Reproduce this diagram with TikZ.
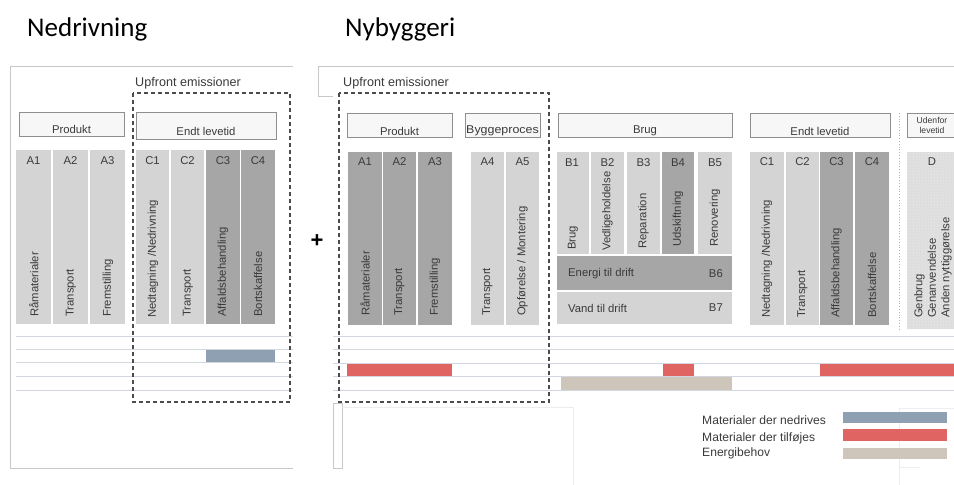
\documentclass[tikz,border=0pt]{standalone}
\usepackage{fontspec}
\setmainfont{Liberation Sans}
\newfontfamily\titlefont{Carlito}
\usetikzlibrary{patterns}
\definecolor{lcol}{HTML}{D4D4D4}
\definecolor{dcol}{HTML}{A6A6A6}
\definecolor{hcol}{HTML}{DDDDDD}
\definecolor{txt}{HTML}{3A3A3A}
\definecolor{rule}{HTML}{D3D8E0}
\definecolor{frame}{HTML}{C8C8C8}
\definecolor{bluebar}{HTML}{8FA0B2}
\definecolor{redbar}{HTML}{E06461}
\definecolor{beigebar}{HTML}{CEC5BB}
\definecolor{hdrborder}{HTML}{8E8E8E}
\newcommand\mkcol[5]{\fill[#5] (#1,#3) rectangle (#2,#4);}
\tikzset{
  every node/.style={text=txt, font=\fontsize{11.3}{13.5}\selectfont, inner sep=0pt},
  rotlab/.style={rotate=90, anchor=west},
  hdrbox/.style={draw=hdrborder, fill=white!97!black, line width=0.7pt},
  rowline/.style={draw=rule, line width=1pt},
  dashbox/.style={draw=black!70, dash pattern=on 4pt off 3pt, line width=1.1pt},
  framel/.style={draw=frame, line width=0.8pt},
  faint/.style={draw=black!7, line width=0.7pt},
  legtext/.style={anchor=base west, font=\fontsize{12.1}{14}\selectfont},
  title/.style={font=\titlefont\fontsize{27}{31}\selectfont, text=black, anchor=base west},
}
\begin{document}
\begin{tikzpicture}[x=1pt,y=-1pt]
\useasboundingbox (0,0) rectangle (954,485);

% ---------- titles ----------
\node[title] (t1) at (27,36) {Nedrivning};
\node[title] (t2) at (345,36) {Nybyggeri};
\node[font=\bfseries\fontsize{22}{24}\selectfont, text=black] (plus) at (317,241) {+};

% ---------- left frame ----------
\draw[framel] (293,66) -- (10,66) -- (10,468) -- (293,468);
\node[anchor=base west, font=\fontsize{12.6}{14}\selectfont] (up1) at (135,86) {Upfront emissioner};

% header boxes left
\draw[hdrbox] (19,112) rectangle (124,136);
\node (lprod) at (71.5,129) {Produkt};
\draw[hdrbox] (136,112) rectangle (276,139);
\node (lendt) at (206,131) {Endt levetid};

% columns left
\mkcol{16}{51}{150}{324}{lcol}
\mkcol{53}{88}{150}{324}{lcol}
\mkcol{90}{125}{150}{324}{lcol}
\mkcol{136}{169}{150}{324}{lcol}
\mkcol{171}{204}{150}{324}{lcol}
\mkcol{206}{240}{150}{324}{dcol}
\mkcol{241}{275}{150}{324}{dcol}
\node (la1) at (33.5,161) {A1};
\node (la2) at (70.5,161) {A2};
\node (la3) at (107.5,161) {A3};
\node (lc1) at (152.5,161) {C1};
\node (lc2) at (187.5,161) {C2};
\node (lc3) at (223,161) {C3};
\node (lc4) at (258,161) {C4};
\node[rotlab] (lr1) at (34,317) {Råmaterialer};
\node[rotlab] (lr2) at (71,317) {Transport};
\node[rotlab] (lr3) at (108,317) {Fremstilling};
\node[rotlab] (lr4) at (153,318) {Nedtagning /Nedrivning};
\node[rotlab] (lr5) at (188,317) {Transport};
\node[rotlab] (lr6) at (223,317) {Affaldsbehandling};
\node[rotlab] (lr7) at (258,317) {Bortskaffelse};

% rows left
\foreach \yy in {336,349,362,376,390} \draw[rowline] (16,\yy) -- (293,\yy);
\fill[bluebar] (206,349.5) rectangle (275,361.5);

\draw[dashbox] (133,93) rectangle (290,402);

% ---------- right frame ----------
\draw[framel] (954,66) -- (318,66) -- (318,96) -- (333,96);
\draw[framel] (333,403) rectangle (342,468);
\draw[faint] (342,407) -- (573,407) -- (573,485);
\draw[faint] (954,408) -- (899,408) -- (899,485);
\draw[faint] (899,467) -- (920,467);
\node[anchor=base west, font=\fontsize{12.6}{14}\selectfont] (up2) at (343,86) {Upfront emissioner};

% header boxes right
\draw[hdrbox] (347,113) rectangle (452,137);
\node (rprod) at (399.5,131) {Produkt};
\draw[hdrbox] (465,113) rectangle (540,137);
\node[xscale=1.1] (rbyg) at (502.5,131) {Byggeproces};
\draw[hdrbox] (558,113) rectangle (732,137);
\node (rbrug) at (645,131) {Brug};
\draw[hdrbox] (750,113) rectangle (890,137);
\node (rendt) at (820,131) {Endt levetid};
\draw[hdrbox] (907,113) rectangle (960,137);
\node[font=\fontsize{8.6}{10}\selectfont, align=center] (rude) at (932,125) {Udenfor\\levetid};
\draw[draw=black!30, dotted, line width=0.8pt] (899,113) -- (899,330);

% columns right
\mkcol{348}{382}{152}{325}{dcol}
\mkcol{383}{416}{152}{325}{dcol}
\mkcol{418}{452}{152}{325}{dcol}
\mkcol{471}{504}{152}{325}{lcol}
\mkcol{506}{539}{152}{325}{lcol}
\mkcol{557}{589}{152}{254}{lcol}
\mkcol{591}{624}{152}{254}{lcol}
\mkcol{627}{660}{152}{254}{lcol}
\mkcol{662}{694}{152}{254}{dcol}
\mkcol{698}{732}{152}{254}{lcol}
\mkcol{557}{732}{256}{290}{dcol}
\mkcol{557}{732}{292}{324}{lcol}
\mkcol{750}{784}{152}{325}{lcol}
\mkcol{786}{819}{152}{325}{lcol}
\mkcol{820}{853}{152}{325}{dcol}
\mkcol{855}{889}{152}{325}{dcol}
\fill[hcol] (907,152) rectangle (960,329);
\fill[pattern=crosshatch dots, pattern color=black!8] (907,152) rectangle (960,329);

\node (ra1) at (365,162) {A1};
\node (ra2) at (399.5,162) {A2};
\node (ra3) at (435,162) {A3};
\node (ra4) at (487.5,162) {A4};
\node (ra5) at (522.5,162) {A5};
\node (rb1) at (572,163) {B1};
\node (rb2) at (607.5,163) {B2};
\node (rb3) at (643.5,163) {B3};
\node (rb4) at (678,163) {B4};
\node (rb5) at (715,163) {B5};
\node (rc1) at (767,162) {C1};
\node (rc2) at (802.5,162) {C2};
\node (rc3) at (836.5,162) {C3};
\node (rc4) at (872,162) {C4};
\node (rd) at (932,162) {D};

\node[rotlab] (rr1) at (365,316) {Råmaterialer};
\node[rotlab] (rr2) at (399.5,316) {Transport};
\node[rotlab] (rr3) at (435,316) {Fremstilling};
\node[rotlab] (rr4) at (487.5,316) {Transport};
\node[rotlab] (rr5) at (522.5,316) {Opførelse / Montering};
\node[rotlab] (rb1l) at (573,250) {Brug};
\node[rotlab] (rb2l) at (607.5,251) {Vedligeholdelse};
\node[rotlab] (rb3l) at (643.5,249) {Reparation};
\node[rotlab] (rb4l) at (678,247) {Udskiftning};
\node[rotlab] (rb5l) at (715,247) {Renovering};
\node[anchor=west] (rb6) at (568,274) {Energi til drift};
\node[anchor=east] (rb6n) at (723,274) {B6};
\node[anchor=west] (rb7) at (568,308) {Vand til drift};
\node[anchor=east] (rb7n) at (723,308) {B7};
\node[rotlab] (rc1l) at (767,318) {Nedtagning /Nedrivning};
\node[rotlab] (rc2l) at (802.5,318) {Transport};
\node[rotlab] (rc3l) at (836.5,318) {Affaldsbehandling};
\node[rotlab] (rc4l) at (872,318) {Bortskaffelse};
\node[rotlab, align=left] (rdl) at (933,318) {Genbrug\\Genanvendelse\\Anden nyttiggørelse};

% rows right
\foreach \yy in {336,349,363,376,390} \draw[rowline] (333,\yy) -- (954,\yy);
\fill[redbar] (347,363.5) rectangle (452,375.5);
\fill[redbar] (663,363.5) rectangle (694,375.5);
\fill[redbar] (820,363.5) rectangle (954,375.5);
\fill[beigebar] (561,376.5) rectangle (732,389.5);

\draw[dashbox] (339,93) rectangle (549,402);

% legend
\node[legtext] (lg1) at (702,424) {Materialer der nedrives};
\node[legtext] (lg2) at (702,441) {Materialer der tilføjes};
\node[legtext] (lg3) at (702,456) {Energibehov};
\fill[bluebar] (843,412) rectangle (947,423);
\fill[redbar] (843,429) rectangle (947,441);
\fill[beigebar] (843,448) rectangle (947,459);
\end{tikzpicture}
\end{document}
